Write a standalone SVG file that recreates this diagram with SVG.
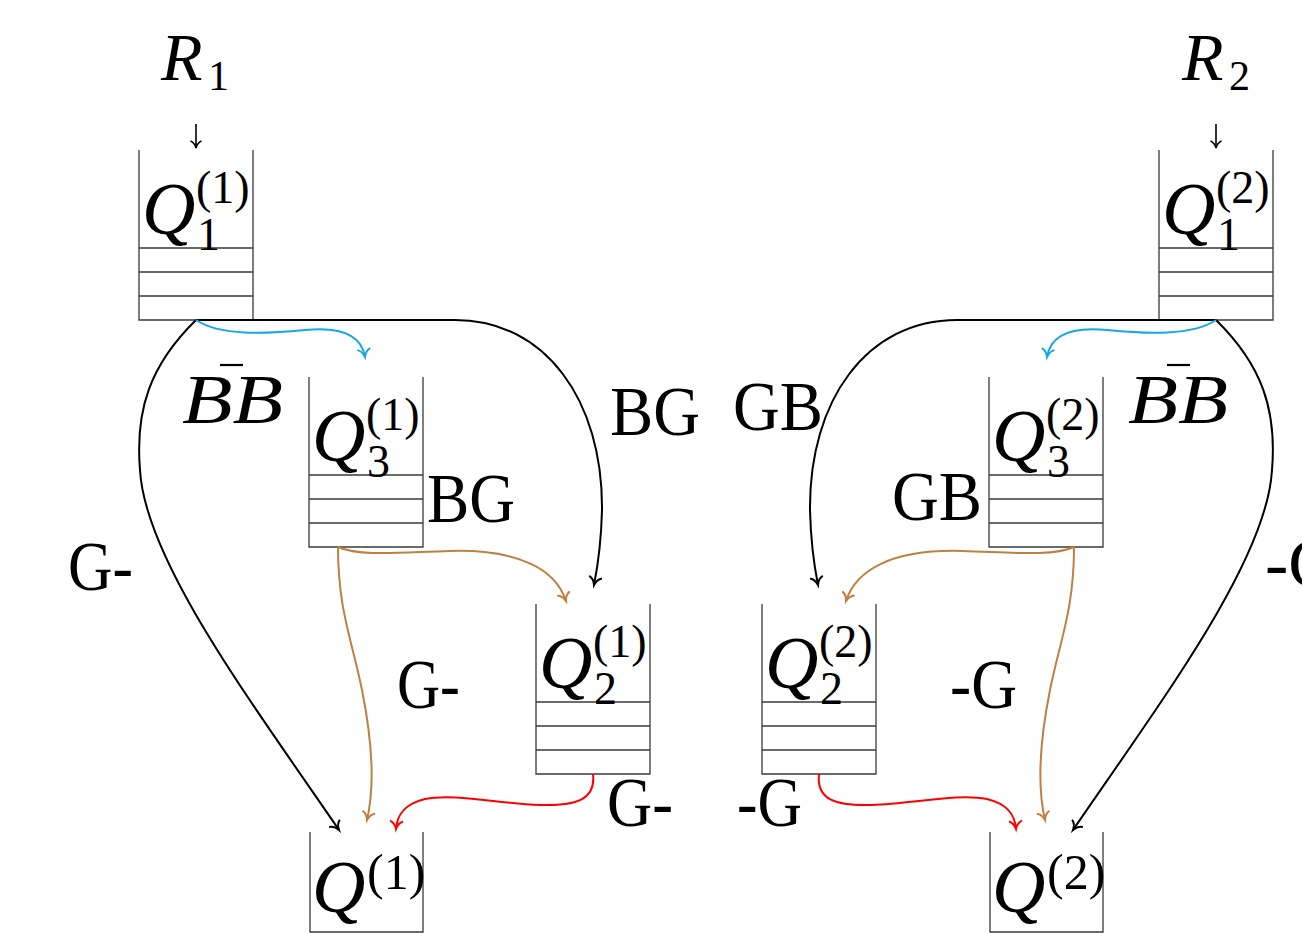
<svg xmlns="http://www.w3.org/2000/svg" width="1302" height="934" viewBox="0 0 1302 934">
  <style>
    .box { fill: none; stroke: #3a3a3a; stroke-width: 1.3; }
    .m { font-family: "Liberation Serif", serif; font-style: italic; fill: #000; }
    .r { font-family: "Liberation Serif", serif; fill: #000; }
    .big { font-size: 74px; }
    .sup { font-size: 46px; }
    .lbl { font-size: 70px; }
    .c { fill: none; stroke-width: 2; }
    .k { stroke: #000; }
    .cy { stroke: #14a8e6; }
    .br { stroke: #bf8040; }
    .rd { stroke: #ff0000; }
    .in { fill: none; stroke: #000; stroke-width: 1.6; }
  </style>
  <defs>
    <marker id="ak" markerUnits="userSpaceOnUse" markerWidth="20" markerHeight="20" viewBox="-10 -10 20 20" refX="0" refY="0" orient="auto" overflow="visible">
      <path d="M-8,-6.5 C-6.5,-2.5 -3,-0.8 0,0 C-3,0.8 -6.5,2.5 -8,6.5" fill="none" stroke="#000" stroke-width="2"/>
    </marker>
    <marker id="acy" markerUnits="userSpaceOnUse" markerWidth="20" markerHeight="20" viewBox="-10 -10 20 20" refX="0" refY="0" orient="auto" overflow="visible">
      <path d="M-8,-6.5 C-6.5,-2.5 -3,-0.8 0,0 C-3,0.8 -6.5,2.5 -8,6.5" fill="none" stroke="#14a8e6" stroke-width="2"/>
    </marker>
    <marker id="abr" markerUnits="userSpaceOnUse" markerWidth="20" markerHeight="20" viewBox="-10 -10 20 20" refX="0" refY="0" orient="auto" overflow="visible">
      <path d="M-8,-6.5 C-6.5,-2.5 -3,-0.8 0,0 C-3,0.8 -6.5,2.5 -8,6.5" fill="none" stroke="#bf8040" stroke-width="2"/>
    </marker>
    <marker id="ard" markerUnits="userSpaceOnUse" markerWidth="20" markerHeight="20" viewBox="-10 -10 20 20" refX="0" refY="0" orient="auto" overflow="visible">
      <path d="M-8,-6.5 C-6.5,-2.5 -3,-0.8 0,0 C-3,0.8 -6.5,2.5 -8,6.5" fill="none" stroke="#ff0000" stroke-width="2"/>
    </marker>
    <marker id="ain" markerUnits="userSpaceOnUse" markerWidth="20" markerHeight="20" viewBox="-10 -10 20 20" refX="0" refY="0" orient="auto" overflow="visible">
      <path d="M-7,-5.5 C-5.5,-2 -2.5,-0.6 0,0 C-2.5,0.6 -5.5,2 -7,5.5" fill="none" stroke="#000" stroke-width="1.6"/>
    </marker>
    <!-- queue with three slots, open at the top -->
    <path id="queue" d="M0,0 V170 H114 V0 M0,98 H114 M0,122 H114 M0,146 H114"/>
    <!-- sink queue, single compartment -->
    <path id="sink" d="M0,0 V100 H113 V0"/>
  </defs>

  <!-- arrival streams -->
  <g id="R1">
    <text class="m" x="161" y="80" font-size="68">R</text>
    <text class="r" x="208" y="90" font-size="42">1</text>
    <path class="in" d="M196,124 V148" marker-end="url(#ain)"/>
  </g>
  <g id="R2">
    <text class="m" x="1182" y="80" font-size="68">R</text>
    <text class="r" x="1229" y="90" font-size="42">2</text>
    <path class="in" d="M1216,124 V148" marker-end="url(#ain)"/>
  </g>

  <!-- first-stage queues -->
  <g id="Q1_1">
    <use href="#queue" class="box" x="139" y="150"/>
    <text class="m big" x="142" y="234">Q</text>
    <text class="r sup" x="196" y="203">(1)</text>
    <text class="r sup" x="197" y="250">1</text>
  </g>
  <g id="Q1_2">
    <use href="#queue" class="box" x="1159" y="150"/>
    <text class="m big" x="1162" y="234">Q</text>
    <text class="r sup" x="1216" y="203">(2)</text>
    <text class="r sup" x="1217" y="250">1</text>
  </g>

  <!-- third queues -->
  <g id="Q3_1">
    <use href="#queue" class="box" x="309" y="377"/>
    <text class="m big" x="312" y="461">Q</text>
    <text class="r sup" x="366" y="430">(1)</text>
    <text class="r sup" x="367" y="477">3</text>
  </g>
  <g id="Q3_2">
    <use href="#queue" class="box" x="989" y="377"/>
    <text class="m big" x="992" y="461">Q</text>
    <text class="r sup" x="1046" y="430">(2)</text>
    <text class="r sup" x="1047" y="477">3</text>
  </g>

  <!-- second queues -->
  <g id="Q2_1">
    <use href="#queue" class="box" x="536" y="604"/>
    <text class="m big" x="539" y="688">Q</text>
    <text class="r sup" x="593" y="657">(1)</text>
    <text class="r sup" x="594" y="704">2</text>
  </g>
  <g id="Q2_2">
    <use href="#queue" class="box" x="762" y="604"/>
    <text class="m big" x="765" y="688">Q</text>
    <text class="r sup" x="819" y="657">(2)</text>
    <text class="r sup" x="820" y="704">2</text>
  </g>

  <!-- output queues -->
  <g id="Q_1">
    <use href="#sink" class="box" x="310" y="832"/>
    <text class="m big" x="312" y="912">Q</text>
    <text class="r" x="367" y="889" font-size="50">(1)</text>
  </g>
  <g id="Q_2">
    <use href="#sink" class="box" x="990" y="832"/>
    <text class="m big" x="992" y="912">Q</text>
    <text class="r" x="1047" y="889" font-size="50">(2)</text>
  </g>

  <!-- routing edges -->
  <g id="connectors">
    <g id="left-edges">
      <path class="c k" d="M196,320 C150,365 135,410 140,470 C145,560 250,700 339,830" marker-end="url(#ak)"/>
      <path class="c k" d="M196,320 L455,320 C545,320 603,400 602,510 C601,550 597,570 594,585" marker-end="url(#ak)"/>
      <path class="c cy" d="M196,320 C220,336 265,334 305,330 C345,326 362,338 365,357" marker-end="url(#acy)"/>
      <path class="c br" d="M338,547 C360,557 405,552 450,551 C520,549 556,570 566,601" marker-end="url(#abr)"/>
      <path class="c br" d="M338,547 C338,610 352,640 362,690 C374,750 374,790 367,820" marker-end="url(#abr)"/>
      <path class="c rd" d="M593,774 C596,800 576,806 540,805 C500,804 455,793 425,799 C405,804 397,814 396,829" marker-end="url(#ard)"/>
    </g>
    <g id="right-edges" transform="matrix(-1,0,0,1,1412,0)">
      <path class="c k" d="M196,320 C150,365 135,410 140,470 C145,560 250,700 339,830" marker-end="url(#ak)"/>
      <path class="c k" d="M196,320 L455,320 C545,320 603,400 602,510 C601,550 597,570 594,585" marker-end="url(#ak)"/>
      <path class="c cy" d="M196,320 C220,336 265,334 305,330 C345,326 362,338 365,357" marker-end="url(#acy)"/>
      <path class="c br" d="M338,547 C360,557 405,552 450,551 C520,549 556,570 566,601" marker-end="url(#abr)"/>
      <path class="c br" d="M338,547 C338,610 352,640 362,690 C374,750 374,790 367,820" marker-end="url(#abr)"/>
      <path class="c rd" d="M593,774 C596,800 576,806 540,805 C500,804 455,793 425,799 C405,804 397,814 396,829" marker-end="url(#ard)"/>
    </g>
  </g>

  <!-- edge labels -->
  <g id="labels">
    <text class="m lbl" x="182" y="423" textLength="101" lengthAdjust="spacingAndGlyphs">BB</text>
    <line x1="220" y1="365" x2="243" y2="365" stroke="#000" stroke-width="2.2"/>
    <text class="m lbl" x="1128" y="423" textLength="100" lengthAdjust="spacingAndGlyphs">BB</text>
    <line x1="1167" y1="365" x2="1190" y2="365" stroke="#000" stroke-width="2.2"/>

    <text class="r lbl" x="610" y="435" textLength="90" lengthAdjust="spacingAndGlyphs">BG</text>
    <text class="r lbl" x="733" y="430" textLength="90" lengthAdjust="spacingAndGlyphs">GB</text>
    <text class="r lbl" x="427" y="522" textLength="88" lengthAdjust="spacingAndGlyphs">BG</text>
    <text class="r lbl" x="892" y="520" textLength="90" lengthAdjust="spacingAndGlyphs">GB</text>

    <text class="r lbl" x="68" y="590" textLength="65" lengthAdjust="spacingAndGlyphs">G-</text>
    <text class="r lbl" x="397" y="708" textLength="63" lengthAdjust="spacingAndGlyphs">G-</text>
    <text class="r lbl" x="607" y="826" textLength="66" lengthAdjust="spacingAndGlyphs">G-</text>
    <text class="r lbl" x="737" y="826" textLength="65" lengthAdjust="spacingAndGlyphs">-G</text>
    <text class="r lbl" x="950" y="708" textLength="67" lengthAdjust="spacingAndGlyphs">-G</text>
    <text class="r lbl" x="1265" y="587">-G</text>
  </g>
</svg>
